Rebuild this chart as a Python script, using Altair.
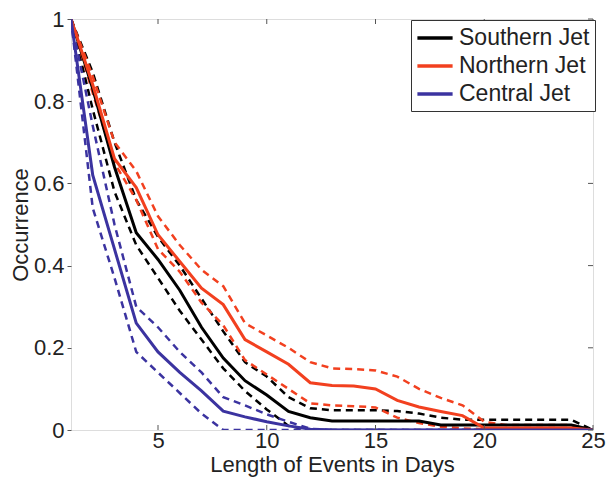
import altair as alt
import pandas as pd

days = list(range(1, 26))

south = [1, 0.83, 0.64, 0.48, 0.415, 0.34, 0.25, 0.175, 0.12, 0.085, 0.045, 0.03, 0.022,
         0.022, 0.022, 0.022, 0.022, 0.012, 0.012, 0.012, 0.012, 0.012, 0.012, 0.012, 0]
south_hi = [1, 0.87, 0.70, 0.56, 0.47, 0.40, 0.32, 0.24, 0.165, 0.13, 0.08, 0.053, 0.048,
            0.048, 0.048, 0.046, 0.04, 0.03, 0.025, 0.025, 0.025, 0.025, 0.025, 0.025, 0]
south_lo = [1, 0.78, 0.58, 0.45, 0.37, 0.29, 0.22, 0.15, 0.095, 0.05, 0.01, 0, 0,
            0, 0, 0, 0, 0, 0, 0, 0, 0, 0, 0, 0]

north = [1, 0.84, 0.66, 0.59, 0.475, 0.41, 0.345, 0.305, 0.22, 0.19, 0.16, 0.115, 0.108,
         0.107, 0.10, 0.072, 0.056, 0.045, 0.035, 0.005, 0.005, 0.005, 0.005, 0.005, 0]
north_hi = [1, 0.86, 0.70, 0.63, 0.52, 0.45, 0.39, 0.35, 0.26, 0.23, 0.20, 0.165, 0.15,
            0.148, 0.145, 0.13, 0.10, 0.078, 0.06, 0.02, 0.012, 0.012, 0.012, 0.012, 0]
north_lo = [1, 0.82, 0.65, 0.56, 0.44, 0.385, 0.31, 0.255, 0.17, 0.135, 0.10, 0.065, 0.06,
            0.058, 0.055, 0.03, 0.017, 0.008, 0.004, 0.002, 0, 0, 0, 0, 0]

central = [1, 0.62, 0.44, 0.26, 0.19, 0.14, 0.095, 0.046, 0.032, 0.02, 0.01, 0.002, 0,
           0, 0, 0, 0, 0, 0, 0, 0, 0, 0, 0, 0]
central_hi = [1, 0.74, 0.50, 0.30, 0.25, 0.19, 0.14, 0.08, 0.06, 0.038, 0.02, 0.003, 0,
              0, 0, 0, 0, 0, 0, 0, 0, 0, 0, 0, 0]
central_lo = [1, 0.54, 0.37, 0.19, 0.14, 0.09, 0.04, 0, 0, 0, 0, 0, 0,
              0, 0, 0, 0, 0, 0, 0, 0, 0, 0, 0, 0]

jets = ["Southern Jet", "Northern Jet", "Central Jet"]
colors = ["#000000", "#f2401f", "#3b33a0"]
x_ticks = [5, 10, 15, 20, 25]
y_ticks = [0, 0.2, 0.4, 0.6, 0.8, 1]

rows = []
for name, mid, hi, lo in [("Southern Jet", south, south_hi, south_lo),
                          ("Northern Jet", north, north_hi, north_lo),
                          ("Central Jet", central, central_hi, central_lo)]:
    for band, vals in [("mid", mid), ("hi", hi), ("lo", lo)]:
        for d, v in zip(days, vals):
            rows.append({"day": d, "value": v, "jet": name, "band": band,
                         "key": name + " " + band})
df = pd.DataFrame(rows)

W, H = 522, 411
FONT = "Liberation Sans"
TXT = "#222222"

xscale = alt.Scale(domain=[1, 25], nice=False, zero=False)
yscale = alt.Scale(domain=[0, 1], nice=False)

x_enc = alt.X("day:Q", scale=xscale,
              axis=alt.Axis(values=x_ticks, title="Length of Events in Days",
                            ticks=False, domain=False, grid=False,
                            labelPadding=0, titlePadding=3,
                            labelFontSize=22, titleFontSize=22,
                            labelFont=FONT, titleFont=FONT,
                            labelColor=TXT, titleColor=TXT,
                            titleFontWeight="normal", labelFlush=False))
y_enc = alt.Y("value:Q", scale=yscale,
              axis=alt.Axis(values=y_ticks, format="~g", title="Occurrence",
                            ticks=True, tickSize=4, tickColor="#555555",
                            domain=False, grid=False,
                            labelPadding=3, titlePadding=1,
                            labelFontSize=22, titleFontSize=22,
                            labelFont=FONT, titleFont=FONT,
                            labelColor=TXT, titleColor=TXT,
                            titleFontWeight="normal", labelFlush=False))

dashed = alt.Chart(df).transform_filter("datum.band != 'mid'").mark_line(
    strokeWidth=2.5, strokeDash=[7, 5], clip=True
).encode(
    x=x_enc, y=y_enc,
    color=alt.Color("jet:N", scale=alt.Scale(domain=jets, range=colors), legend=None),
    detail="key:N", order="day:Q"
)

solid = alt.Chart(df).transform_filter("datum.band == 'mid'").mark_line(
    strokeWidth=3, clip=True
).encode(
    x=x_enc, y=y_enc,
    color=alt.Color("jet:N", scale=alt.Scale(domain=jets, range=colors), sort=jets,
                    legend=alt.Legend(title=None, orient="none", legendX=340, legendY=1,
                                      symbolType="M-1.6,0L1.6,0", symbolSize=484,
                                      symbolStrokeWidth=3.5, labelOffset=11,
                                      symbolOffset=6,
                                      labelFontSize=23, labelFont=FONT, labelColor=TXT,
                                      padding=5, rowPadding=3, strokeColor="#333333",
                                      fillColor="white", labelLimit=300)),
    order="day:Q"
)

xt = pd.DataFrame({"t": x_ticks})
yt = pd.DataFrame({"t": y_ticks})
tick_x_bottom = alt.Chart(xt).mark_rule(color="#555555", strokeWidth=1).encode(
    x=alt.X("t:Q", scale=xscale), y=alt.value(H), y2=alt.value(H - 5))
tick_x_top = alt.Chart(xt).mark_rule(color="#555555", strokeWidth=1).encode(
    x=alt.X("t:Q", scale=xscale), y=alt.value(0), y2=alt.value(5))
tick_y_right = alt.Chart(yt).mark_rule(color="#555555", strokeWidth=1).encode(
    y=alt.Y("t:Q", scale=yscale), x=alt.value(W), x2=alt.value(W - 5))

chart = alt.layer(dashed, solid, tick_x_bottom, tick_x_top, tick_y_right).resolve_legend(
    color="independent"
).properties(
    width=W, height=H,
    autosize=alt.AutoSizeParams(type="none"),
    padding={"left": 63, "top": 11, "right": 13, "bottom": 54}
).configure_view(
    stroke="#555555", strokeWidth=1.2
).configure(background="white")

chart.save("out.html", embed_options={"renderer": "svg", "actions": False})
